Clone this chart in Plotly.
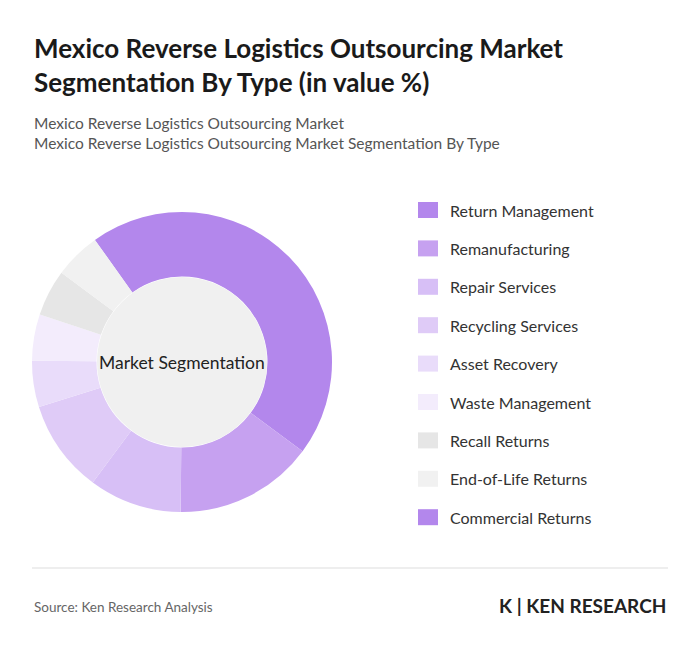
import plotly.graph_objects as go

labels = ["Return Management", "Remanufacturing", "Repair Services", "Recycling Services",
          "Asset Recovery", "Waste Management", "Recall Returns", "End-of-Life Returns",
          "Commercial Returns"]
values = [45, 15, 10, 10, 5, 5, 5, 5, 0]
colors = ["#b387ec", "#c6a1f0", "#d7bff6", "#dfcbf7", "#e9dcfa", "#f3ecfc",
          "#e6e6e6", "#f1f1f1", "#b387ec"]

W, H = 700, 653
O = 8  # browser body margin
def px(x): return (x - O) / W
def py(y): return 1 - (y - O) / H

fig = go.Figure(go.Pie(
    labels=labels, values=values, sort=False, direction="clockwise", rotation=-35.5,
    hole=0.57, marker=dict(colors=colors, line=dict(width=0)), textinfo="none",
    domain=dict(x=[px(32), px(332)], y=[py(512), py(212)]), showlegend=False))

shapes = [dict(type="circle", xref="paper", yref="paper",
               x0=px(182-85), x1=px(182+85), y0=py(362+85), y1=py(362-85),
               fillcolor="#f0f0f0", line=dict(width=0), layer="above"),
          dict(type="line", xref="paper", yref="paper", x0=px(32), x1=px(668),
               y0=py(568), y1=py(568), line=dict(color="#dddddd", width=1))]
ann = [dict(text="Market Segmentation", x=px(182), y=py(362), showarrow=False,
            font=dict(size=17.5, color="#222"), xanchor="center", yanchor="middle")]
for i, (lab, c) in enumerate(zip(labels, colors)):
    yc = 210 + i*38.4
    shapes.append(dict(type="rect", xref="paper", yref="paper", x0=px(418), x1=px(438),
                       y0=py(yc+8), y1=py(yc-8), fillcolor=c, line=dict(width=0)))
    ann.append(dict(text=lab, x=px(448), y=py(yc), xanchor="left", yanchor="middle",
                    showarrow=False, font=dict(size=16, color="#333")))

ann += [
    dict(text="<b>Mexico Reverse Logistics Outsourcing Market<br>Segmentation By Type (in value %)</b>",
         x=px(32), y=py(30), xanchor="left", yanchor="top", align="left", showarrow=False,
         font=dict(size=26, color="#1a1a1a")),
    dict(text="Mexico Reverse Logistics Outsourcing Market<br>Mexico Reverse Logistics Outsourcing Market Segmentation By Type",
         x=px(32), y=py(112), xanchor="left", yanchor="top", align="left", showarrow=False,
         font=dict(size=15.5, color="#555")),
    dict(text="Source: Ken Research Analysis", x=px(32), y=py(607), xanchor="left",
         yanchor="middle", showarrow=False, font=dict(size=13.5, color="#666")),
    dict(text="<b>K | KEN RESEARCH</b>", x=px(668), y=py(605), xanchor="right",
         yanchor="middle", showarrow=False, font=dict(size=19, color="#222")),
]

fig.update_layout(width=W, height=H, margin=dict(l=0, r=0, t=0, b=0),
                  paper_bgcolor="white", plot_bgcolor="white",
                  font=dict(family="Lato, Open Sans, sans-serif"),
                  shapes=shapes, annotations=ann)
fig.write_html("out.html")
